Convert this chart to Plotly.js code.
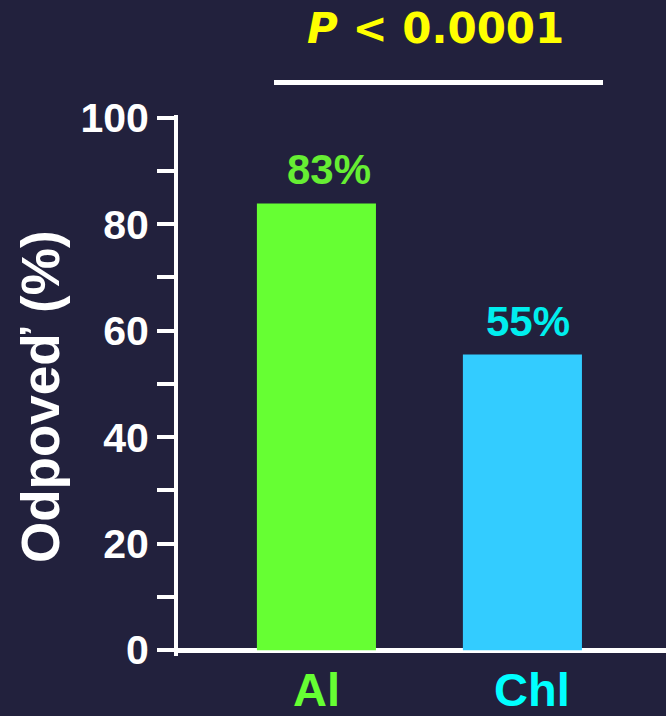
<!DOCTYPE html>
<html>
<head>
<meta charset="utf-8">
<script src="https://cdn.plot.ly/plotly-3.0.1.min.js"></script>
<style>
html,body{margin:0;padding:0;background:#22213d;}
#chart{width:666px;height:716px;}
</style>
</head>
<body>
<div id="chart"></div>
<script>
var categories = ['Al', 'Chl'];
var categoryColors = ['#66ff33', '#00ffff'];
var responseValues = [83.9, 55.5];
var valueLabels = ['83%', '55%'];
var barColors = ['#66ff33', '#33ccff'];
var labelColors = ['#66ee33', '#00eeee'];
var yTickVals = [0, 10, 20, 30, 40, 50, 60, 70, 80, 90, 100];
var yTickText = ['0', '', '20', '', '40', '', '60', '', '80', '', '100'];
var yTitle = 'Odpoveď (%)';
var pText = '<i>P</i> &lt; 0.0001';

var labelXShift = [13, 6];
var catXShift = [0, 10];

var trace = {
  type: 'bar',
  x: [0, 1],
  y: responseValues,
  width: 0.578,
  marker: {color: barColors, line: {width: 0}},
  hoverinfo: 'none'
};

var annotations = valueLabels.map(function (t, i) {
  return {
    x: i, y: responseValues[i], xref: 'x', yref: 'y',
    text: t, showarrow: false, yanchor: 'bottom', yshift: 8, xshift: labelXShift[i],
    font: {family: 'Liberation Sans, Arial, sans-serif', size: 42, color: labelColors[i], weight: 'bold'}
  };
});
categories.forEach(function (c, i) {
  annotations.push({
    x: i, y: 0, xref: 'x', yref: 'paper',
    text: c, showarrow: false, yanchor: 'middle', xanchor: 'center',
    yshift: -33, xshift: catXShift[i],
    font: {family: 'Liberation Sans, Arial, sans-serif', size: 47, color: categoryColors[i], weight: 'bold'}
  });
});
annotations.push({
  x: 0.5277, y: 1.159, xref: 'paper', yref: 'paper',
  text: pText, showarrow: false, xanchor: 'center', yanchor: 'middle',
  font: {family: 'DejaVu Sans, sans-serif', size: 42, color: '#ffff00', weight: 'bold'}
});
annotations.push({
  x: (41 - 178) / 488, y: (656 - 397) / 541, xref: 'paper', yref: 'paper',
  text: yTitle, showarrow: false, textangle: -90, xanchor: 'center', yanchor: 'middle',
  font: {family: 'Liberation Sans, Arial, sans-serif', size: 53, color: '#ffffff', weight: 'bold'}
});

var layout = {
  width: 666, height: 716,
  margin: {l: 178, r: 0, t: 115, b: 60},
  paper_bgcolor: '#22213d',
  plot_bgcolor: '#22213d',
  showlegend: false,
  font: {family: 'Liberation Sans, Arial, sans-serif', color: '#ffffff', weight: 'bold'},
  xaxis: {
    range: [-0.672, 1.697],
    tickvals: [0, 1],
    ticktext: categories,
    showticklabels: false,
    ticks: '',
    showline: false,
    showgrid: false,
    zeroline: false,
    fixedrange: true
  },
  yaxis: {
    range: [-1.1, 100.5],
    tickvals: yTickVals,
    ticktext: yTickText,
    ticks: 'outside',
    ticklen: 17,
    tickwidth: 4,
    tickcolor: '#ffffff',
    showline: true,
    linecolor: '#ffffff',
    linewidth: 4,
    showgrid: false,
    zeroline: true,
    zerolinecolor: '#ffffff',
    zerolinewidth: 5,
    tickfont: {size: 41, weight: 'bold'},
    fixedrange: true
  },
  shapes: [{
    type: 'line', xref: 'paper', yref: 'paper',
    x0: (274 - 178) / 488, x1: (603 - 178) / 488, y0: 1.06, y1: 1.06,
    line: {color: '#ffffff', width: 5}
  }],
  annotations: annotations
};

Plotly.newPlot('chart', [trace], layout, {displayModeBar: false, staticPlot: true});
</script>
</body>
</html>
